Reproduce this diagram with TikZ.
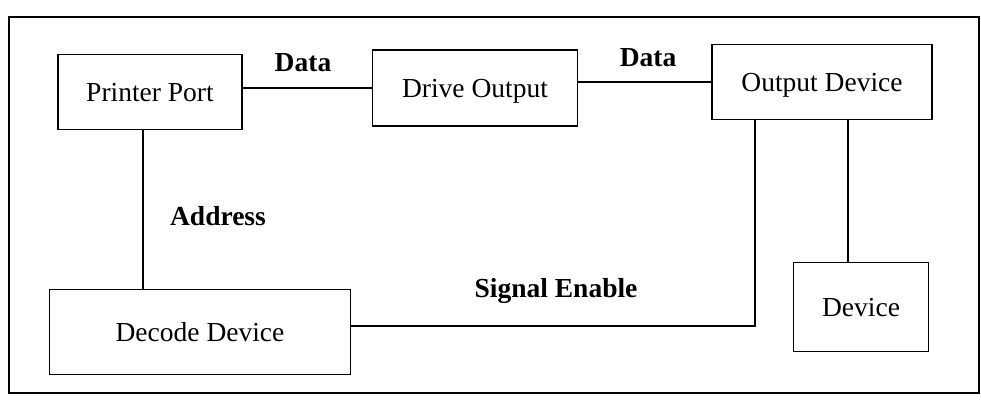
\documentclass[tikz,border=0pt]{standalone}
\usepackage{fontspec}
\setmainfont{Liberation Serif}
\usepackage{xcolor}
\usepackage{tikz}
\usetikzlibrary{positioning,calc}

\begin{document}
\begin{tikzpicture}[
  x=1pt, y=-1pt,
  font=\fontsize{27.5}{33}\selectfont,
  blk/.style={rectangle, draw=black, line width=1.6pt, text depth=0pt, align=center},
  wire/.style={line width=1.6pt, draw=black},
  lbl/.style={anchor=base, font=\fontsize{27.5}{33}\selectfont\bfseries}
]
\useasboundingbox (0,0) rectangle (981,402);

%% Outer frame
\draw[wire] (9,17) rectangle (979,393);

%% Top row
\node[blk, minimum width=184pt, minimum height=75pt] (pp) at (150,92) {Printer Port};
\node[blk, minimum width=205pt, minimum height=76pt] (drv) at (475,88) {Drive Output};
\node[blk, minimum width=220pt, minimum height=75pt] (out) at (822,82) {Output Device};

%% Bottom row
\node[blk, minimum width=301pt, minimum height=85pt] (dec) at (200,332) {Decode Device};
\node[blk, minimum width=135pt, minimum height=89pt] (dev) at (861,307) {Device};

%% bend points
\coordinate (ad) at (143,200);
\coordinate (en) at (755,326);
\coordinate (od) at (848,200);

%% data lines
\draw[wire] (pp.east |- drv.west) -- (drv.west);
\draw[wire] (drv.east |- out.west) -- (out.west);

%% address and enable
\draw[wire] (ad |- pp.south) -- (ad |- dec.north);
\draw[wire] (dec.east |- en) -- (en) -- (en |- out.south);
\draw[wire] (od |- out.south) -- (od |- dev.north);

%% labels
\node[lbl] (dat1) at (303,71) {Data};
\node[lbl] (dat2) at (648,66) {Data};
\node[lbl] (adr) at (218,225) {Address};
\node[lbl] (sen) at (556,297) {Signal Enable};

\end{tikzpicture}
\end{document}
